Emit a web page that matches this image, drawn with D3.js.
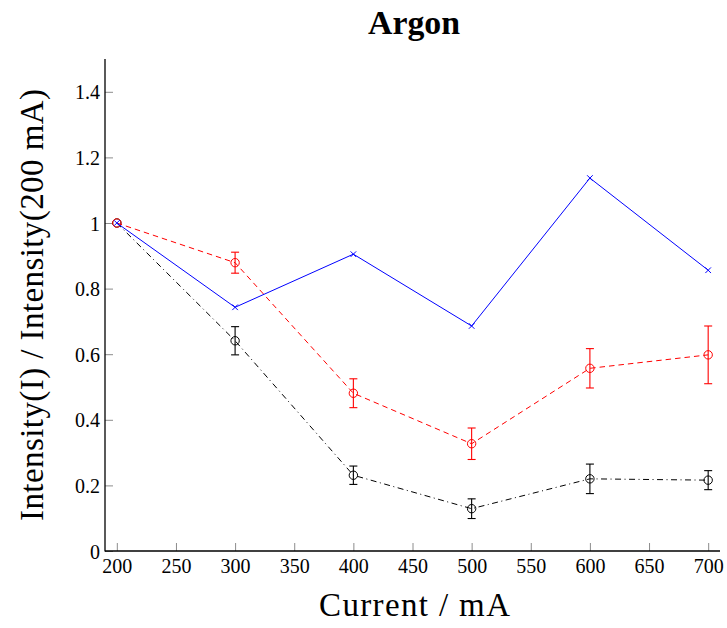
<!DOCTYPE html>
<html>
<head>
<meta charset="utf-8">
<script src="https://cdn.jsdelivr.net/npm/d3@7"></script>
<style>
  html, body { margin: 0; padding: 0; background: #fff; }
  svg { display: block; }
  text { font-family: "Liberation Serif", "DejaVu Serif", serif; fill: #000; }
</style>
</head>
<body>
<svg id="chart" width="727" height="628"></svg>
<script>
const currents = [200, 300, 400, 500, 600, 700];
const blueValues = [1.0, 0.743, 0.905, 0.686, 1.137, 0.856];
const redValues = [1.0, 0.879, 0.481, 0.327, 0.557, 0.598];
const redErrors = [0, 0.032, 0.044, 0.048, 0.060, 0.088];
const blackValues = [1.0, 0.641, 0.231, 0.129, 0.220, 0.216];
const blackErrors = [0, 0.043, 0.028, 0.030, 0.045, 0.029];
const xTicks = [200, 250, 300, 350, 400, 450, 500, 550, 600, 650, 700];
const yTicks = [0, 0.2, 0.4, 0.6, 0.8, 1.0, 1.2, 1.4];
const titleText = "Argon";
const xLabelText = "Current / mA";
const yLabelText = "Intensity(I) / Intensity(200 mA)";

const svg = d3.select("#chart");
const x = d3.scaleLinear().domain([190, 710]).range([105, 720]);
const y = d3.scaleLinear().domain([0, 1.5]).range([551, 59]);

// axes
const xAxis = d3.axisBottom(x).tickValues(xTicks).tickSizeInner(-8).tickSizeOuter(0).tickPadding(6).tickFormat(d3.format("d"));
const gx = svg.append("g").attr("transform", "translate(0,551)").call(xAxis);
gx.select(".domain").remove();
gx.selectAll(".tick line").attr("stroke", "#8c8c8c").attr("stroke-width", 1);
gx.selectAll(".tick text").attr("font-size", 20).attr("font-family", "Liberation Serif, serif").attr("dy", "0.8em");

const yAxis = d3.axisLeft(y).tickValues(yTicks).tickSizeInner(-8).tickSizeOuter(0).tickPadding(5).tickFormat(d3.format("~g"));
const gy = svg.append("g").attr("transform", "translate(105,0)").call(yAxis);
gy.select(".domain").remove();
gy.selectAll(".tick line").attr("stroke", "#8c8c8c").attr("stroke-width", 1);
gy.selectAll(".tick text").attr("font-size", 20).attr("font-family", "Liberation Serif, serif").attr("dy", "0.35em");

// axis lines
svg.append("line").attr("x1", x.range()[0]).attr("x2", x.range()[1]).attr("y1", y(0)).attr("y2", y(0))
  .attr("stroke", "#000").attr("stroke-width", 1.3);
svg.append("line").attr("x1", x.range()[0]).attr("x2", x.range()[0]).attr("y1", y.range()[0] + 0.6).attr("y2", y.range()[1])
  .attr("stroke", "#000").attr("stroke-width", 1.3);

const line = d3.line().x(d => x(d[0])).y(d => y(d[1]));

function errSeries(vals, errs, color, dash) {
  const pts = currents.map((c, i) => [c, vals[i], errs[i]]);
  const g = svg.append("g");
  g.append("path").attr("d", line(pts)).attr("fill", "none").attr("stroke", color)
    .attr("stroke-width", 1).attr("stroke-dasharray", dash);
  const eb = g.selectAll(".eb").data(pts.filter(p => p[2] > 0)).enter().append("g");
  eb.append("line").attr("x1", d => x(d[0])).attr("x2", d => x(d[0]))
    .attr("y1", d => y(d[1] - d[2])).attr("y2", d => y(d[1] + d[2])).attr("stroke", color).attr("stroke-width", 1.1);
  eb.append("line").attr("x1", d => x(d[0]) - 4).attr("x2", d => x(d[0]) + 4)
    .attr("y1", d => y(d[1] - d[2])).attr("y2", d => y(d[1] - d[2])).attr("stroke", color).attr("stroke-width", 1.1);
  eb.append("line").attr("x1", d => x(d[0]) - 4).attr("x2", d => x(d[0]) + 4)
    .attr("y1", d => y(d[1] + d[2])).attr("y2", d => y(d[1] + d[2])).attr("stroke", color).attr("stroke-width", 1.1);
  g.selectAll("circle").data(pts).enter().append("circle")
    .attr("cx", d => x(d[0])).attr("cy", d => y(d[1])).attr("r", 4.2)
    .attr("fill", "none").attr("stroke", color).attr("stroke-width", 1);
}

errSeries(blackValues, blackErrors, "#000", "6,3.5,1,3.5");
errSeries(redValues, redErrors, "#ff0000", "5.5,4");

// blue series
const bluePts = currents.map((c, i) => [c, blueValues[i]]);
const gb = svg.append("g");
gb.append("path").attr("d", line(bluePts)).attr("fill", "none").attr("stroke", "#0000ff").attr("stroke-width", 1);
const s = 2.8;
gb.selectAll(".xm").data(bluePts).enter().append("path")
  .attr("d", d => `M${x(d[0]) - s},${y(d[1]) - s}L${x(d[0]) + s},${y(d[1]) + s}M${x(d[0]) - s},${y(d[1]) + s}L${x(d[0]) + s},${y(d[1]) - s}`)
  .attr("stroke", "#0000ff").attr("stroke-width", 1).attr("fill", "none");

// title and labels
svg.append("text").attr("x", 414).attr("y", 34).attr("text-anchor", "middle")
  .attr("font-size", 33).attr("font-weight", "bold").attr("textLength", 92).attr("lengthAdjust", "spacingAndGlyphs").text(titleText);
svg.append("text").attr("x", 414.5).attr("y", 616).attr("text-anchor", "middle")
  .attr("font-size", 33).attr("textLength", 191).attr("lengthAdjust", "spacing").text(xLabelText);
svg.append("text").attr("transform", "translate(43,305) rotate(-90)").attr("text-anchor", "middle")
  .attr("font-size", 33).attr("textLength", 432).attr("lengthAdjust", "spacing").text(yLabelText);
</script>
</body>
</html>
